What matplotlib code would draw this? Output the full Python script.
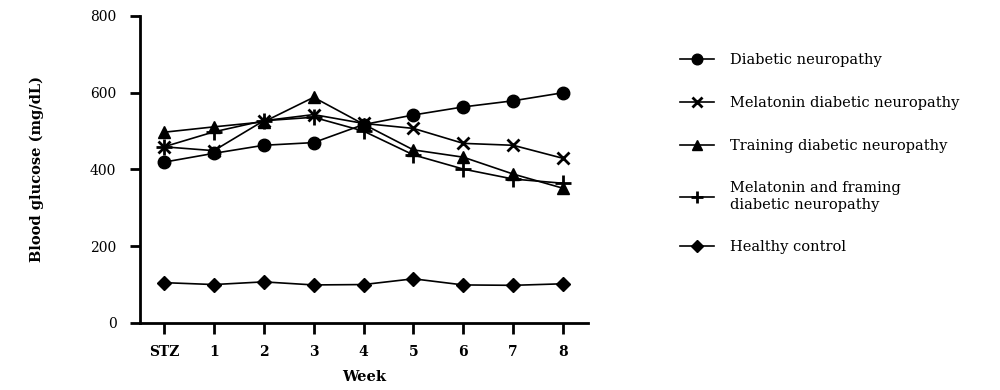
import matplotlib
matplotlib.use('Agg')
import matplotlib.pyplot as plt

plt.rcParams['font.family'] = ['DejaVu Serif']

weeks = ['STZ', '1', '2', '3', '4', '5', '6', '7', '8']
diabetic = [419, 442, 463, 470, 517, 542, 563, 579, 600]
melatonin = [459, 449, 527, 543, 520, 507, 468, 463, 429]
training = [497, 511, 524, 588, 518, 451, 432, 388, 351]
mel_training = [459, 498, 527, 536, 500, 438, 401, 375, 364]
healthy = [105, 100, 107, 99, 100, 115, 99, 98, 102]

labels = ['Diabetic neuropathy', 'Melatonin diabetic neuropathy',
          'Training diabetic neuropathy',
          'Melatonin and framing\ndiabetic neuropathy', 'Healthy control']

fig = plt.figure(figsize=(10, 3.9), dpi=100)
ax = fig.add_axes([0.14, 0.172, 0.448, 0.787])

x = range(len(weeks))
ax.plot(x, diabetic, color='black', lw=1.2, marker='o', ms=9, label=labels[0])
ax.plot(x, melatonin, color='black', lw=1.2, marker='x', ms=9, mew=2, label=labels[1])
ax.plot(x, training, color='black', lw=1.2, marker='^', ms=9, label=labels[2])
ax.plot(x, mel_training, color='black', lw=1.2, marker='+', ms=11, mew=2, label=labels[3])
ax.plot(x, healthy, color='black', lw=1.2, marker='D', ms=7, label=labels[4])

ax.set_xlim(-0.48, 8.5)
ax.set_ylim(0, 800)
ax.set_yticks([0, 200, 400, 600, 800])
ax.set_xticks(list(x))
ax.set_xticklabels(weeks, fontweight='bold', fontsize=10)
ax.tick_params(axis='y', labelsize=10, width=2, length=7, direction='out', pad=10)
ax.tick_params(axis='x', width=2, length=8, direction='out', pad=8)
for s in ['top', 'right']:
    ax.spines[s].set_visible(False)
for s in ['left', 'bottom']:
    ax.spines[s].set_linewidth(2)

ax.set_xlabel('Week', fontweight='bold', fontsize=10.5, labelpad=8)
ax.set_ylabel('Blood glucose (mg/dL)', fontweight='bold', fontsize=10.5, labelpad=33)

fig.legend(loc='upper left', bbox_to_anchor=(0.667, 0.897), frameon=False,
           fontsize=10.5, handlelength=2.3, handletextpad=1.1, labelspacing=1.97,
           markerscale=0.85)

fig.savefig('out.png', dpi=100)
